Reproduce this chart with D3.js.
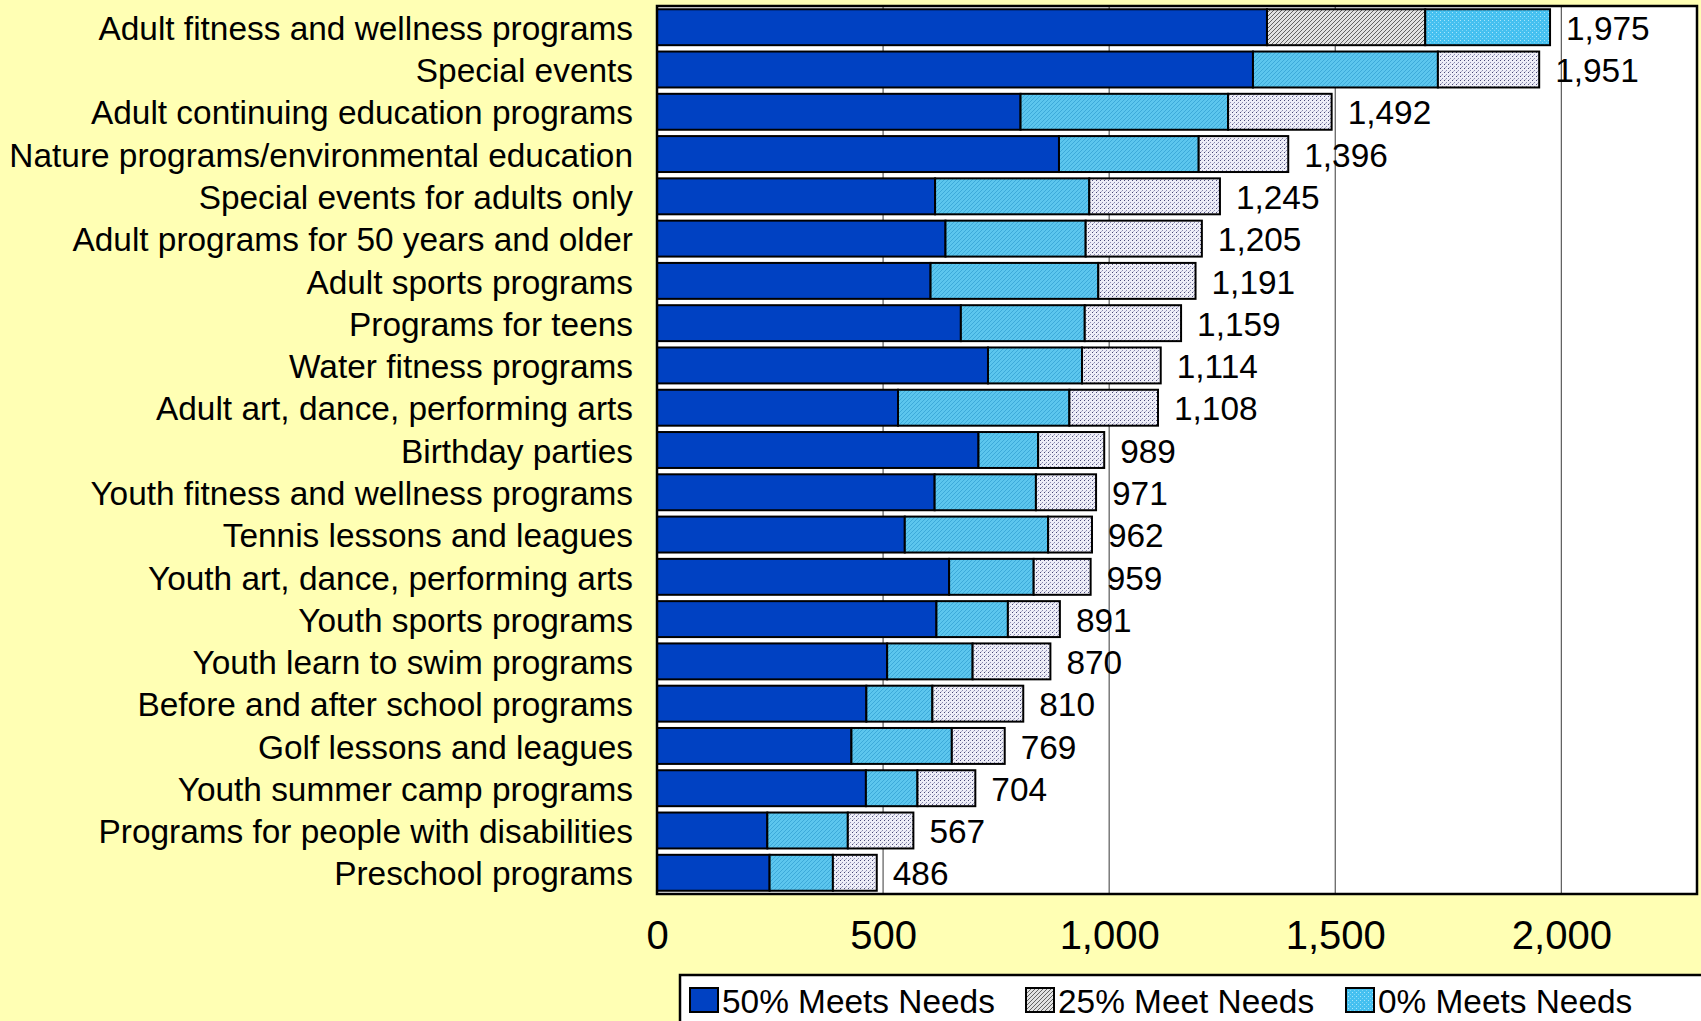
<!DOCTYPE html>
<html>
<head>
<meta charset="utf-8">
<script src="https://cdn.jsdelivr.net/npm/d3@7"></script>
<style>
  html, body { margin: 0; padding: 0; background: #FFFFB4; }
  svg { display: block; font-family: "Liberation Sans", Arial, sans-serif; }
</style>
</head>
<body>
<svg id="chart" width="1701" height="1021"></svg>
<script>
const categories = [
  "Adult fitness and wellness programs",
  "Special events",
  "Adult continuing education programs",
  "Nature programs/environmental education",
  "Special events for adults only",
  "Adult programs for 50 years and older",
  "Adult sports programs",
  "Programs for teens",
  "Water fitness programs",
  "Adult art, dance, performing arts",
  "Birthday parties",
  "Youth fitness and wellness programs",
  "Tennis lessons and leagues",
  "Youth art, dance, performing arts",
  "Youth sports programs",
  "Youth learn to swim programs",
  "Before and after school programs",
  "Golf lessons and leagues",
  "Youth summer camp programs",
  "Programs for people with disabilities",
  "Preschool programs"
];
const meets50 = [1349,1318,804,889,615,638,605,672,732,533,711,614,548,646,618,509,463,430,462,244,249];
const meets25 = [350,409,459,309,341,310,371,274,208,379,132,224,317,187,158,189,146,222,114,178,140];
const meets0  = [276,224,229,198,289,257,215,213,174,196,146,133,97,126,115,172,201,117,128,145,97];
const totals  = [1975,1951,1492,1396,1245,1205,1191,1159,1114,1108,989,971,962,959,891,870,810,769,704,567,486];
const seriesNames = ["50% Meets Needs", "25% Meet Needs", "0% Meets Needs"];
const xTicks = [0, 500, 1000, 1500, 2000];

const svg = d3.select("#chart");
const defs = svg.append("defs");

// patterns
function pat(id, size, base, draw) {
  const p = defs.append("pattern").attr("id", id).attr("patternUnits", "userSpaceOnUse")
    .attr("width", size).attr("height", size);
  p.append("rect").attr("width", size).attr("height", size).attr("fill", base);
  draw(p);
}
pat("grayDiag", 4, "#e2e2e2", p => {
  p.append("path").attr("d", "M-1,1 L1,-1 M0,4 L4,0 M3,5 L5,3").attr("stroke", "#555").attr("stroke-width", 0.9);
});
pat("lightDot", 4, "#45c0f0", p => {
  p.append("rect").attr("x", 0).attr("y", 0).attr("width", 1).attr("height", 1).attr("fill", "#a8e6fb");
  p.append("rect").attr("x", 2).attr("y", 2).attr("width", 1).attr("height", 1).attr("fill", "#7fd6f6");
});
pat("lightDiag", 4, "#5cc6ee", p => {
  p.append("path").attr("d", "M-1,1 L1,-1 M0,4 L4,0 M3,5 L5,3").attr("stroke", "#3aa7d8").attr("stroke-width", 0.9);
});
pat("grayDot", 4, "#eeeef8", p => {
  p.append("rect").attr("x", 0).attr("y", 0).attr("width", 1).attr("height", 1).attr("fill", "#4a4a78");
  p.append("rect").attr("x", 2).attr("y", 2).attr("width", 1).attr("height", 1).attr("fill", "#8a8ab0");
  p.append("rect").attr("x", 1).attr("y", 3).attr("width", 1).attr("height", 1).attr("fill", "#b0b0cc");
});

const legendFills = ["#0041C2", "url(#grayDiag)", "url(#lightDot)"];
const otherFills  = ["#0041C2", "url(#lightDiag)", "url(#grayDot)"];

const plot = { left: 657, top: 6, right: 1697, bottom: 894 };
const x = d3.scaleLinear().domain([0, 2300]).range([plot.left, plot.right]);
const y = d3.scaleBand().domain(categories).range([plot.top, plot.bottom])
  .paddingInner(0.15).paddingOuter(0.077);

// plot background
svg.append("rect").attr("x", plot.left).attr("y", plot.top)
  .attr("width", plot.right - plot.left).attr("height", plot.bottom - plot.top)
  .attr("fill", "#ffffff");

// gridlines
svg.append("g").selectAll("line").data(xTicks.filter(t => t > 0)).join("line")
  .attr("x1", d => x(d)).attr("x2", d => x(d))
  .attr("y1", plot.top).attr("y2", plot.bottom)
  .attr("stroke", "#5a5a5a").attr("stroke-width", 1.2);

// stacked data
const rows = categories.map((c, i) => ({ cat: c, i, m50: meets50[i], m25: meets25[i], m0: meets0[i] }));
const keys = ["m50", "m25", "m0"];
const stack = d3.stack().keys(keys)(rows);

svg.append("g").selectAll("g").data(stack).join("g")
  .each(function(layer, k) {
    d3.select(this).selectAll("rect").data(layer).join("rect")
      .attr("x", d => x(d[0]))
      .attr("y", d => y(d.data.cat))
      .attr("width", d => x(d[1]) - x(d[0]))
      .attr("height", y.bandwidth())
      .attr("fill", d => d.data.i === 0 ? legendFills[k] : otherFills[k])
      .attr("stroke", "#000")
      .attr("stroke-width", 2);
  });

// value labels
svg.append("g").selectAll("text").data(rows).join("text")
  .attr("x", d => x(totals[d.i]) + 16)
  .attr("y", d => y(d.cat) + y.bandwidth() / 2)
  .attr("dy", "0.38em")
  .attr("font-size", "33.4px")
  .attr("fill", "#000")
  .text(d => d3.format(",")(totals[d.i]));

// plot border
svg.append("rect").attr("x", plot.left).attr("y", plot.top)
  .attr("width", plot.right - plot.left).attr("height", plot.bottom - plot.top)
  .attr("fill", "none").attr("stroke", "#000").attr("stroke-width", 2.5);

// category axis
const yAxis = svg.append("g").attr("transform", `translate(${plot.left},0)`)
  .call(d3.axisLeft(y).tickSize(0).tickPadding(24));
yAxis.select(".domain").remove();
yAxis.selectAll("text").attr("font-size", "33.4px").attr("fill", "#000")
  .attr("font-family", "Liberation Sans, Arial, sans-serif").attr("dy", "0.38em");

// value axis
const xAxis = svg.append("g").attr("transform", `translate(0,${plot.bottom})`)
  .call(d3.axisBottom(x).tickValues(xTicks).tickSize(0).tickFormat(d3.format(",")));
xAxis.select(".domain").remove();
xAxis.selectAll("text").attr("font-size", "40px").attr("fill", "#000")
  .attr("font-family", "Liberation Sans, Arial, sans-serif")
  .attr("y", 55).attr("dy", 0);

// legend
const lg = svg.append("g");
lg.append("rect").attr("x", 680).attr("y", 975).attr("width", 1100).attr("height", 100)
  .attr("fill", "#fff").attr("stroke", "#000").attr("stroke-width", 2.5);
const legendX = [690, 1026, 1346];
seriesNames.forEach((name, k) => {
  lg.append("rect").attr("x", legendX[k]).attr("y", 988).attr("width", 28).attr("height", 24)
    .attr("fill", legendFills[k]).attr("stroke", "#000").attr("stroke-width", 2);
  lg.append("text").attr("x", legendX[k] + 32).attr("y", 1013)
    .attr("font-size", "33.4px").attr("fill", "#000").text(name);
});
</script>
</body>
</html>
